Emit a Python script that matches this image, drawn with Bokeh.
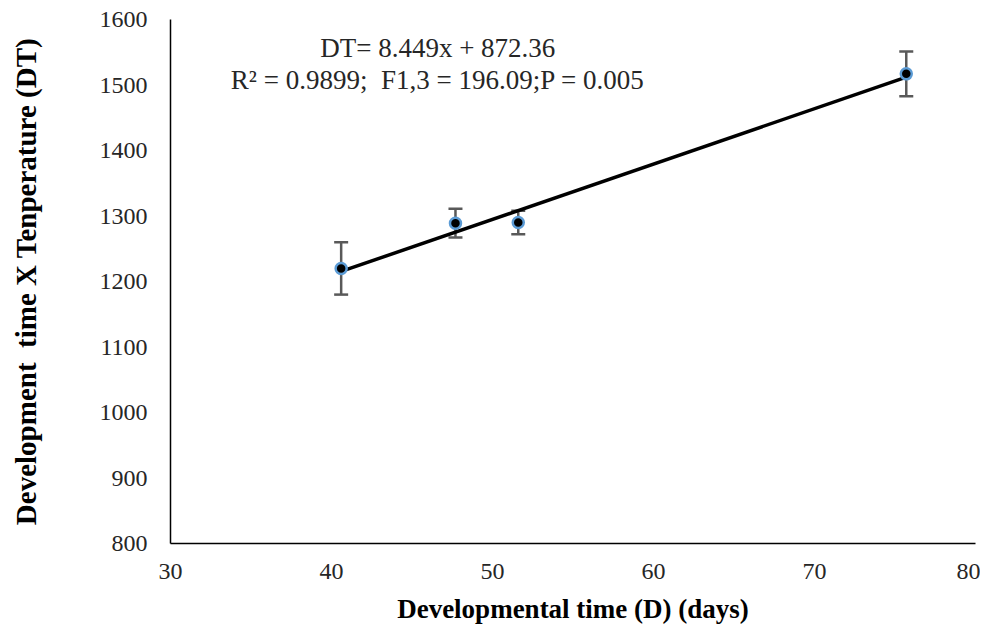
from bokeh.plotting import figure
from bokeh.models import Range1d, SingleIntervalTicker, Whisker, TeeHead, ColumnDataSource, Label
from bokeh.embed import file_html
from bokeh.resources import INLINE
import numpy as np

days = [40.6, 47.7, 51.6, 75.7]
dt_vals = [1220, 1289, 1290, 1517]
err = [40, 22, 18, 34]
slope = 8.449
intercept = 872.36
eq_text = "DT= 8.449x + 872.36"
stats_text = "R\u00b2 = 0.9899;\u00a0 F1,3 = 196.09;P = 0.005"

FONT = "Liberation Serif"

p = figure(width=980, height=626, output_backend="svg", toolbar_location=None,
           x_range=Range1d(30, 80), y_range=Range1d(800, 1600),
           min_border_left=170, min_border_right=5, min_border_top=19, min_border_bottom=83)
p.outline_line_color = None
p.grid.visible = False

for ax in (p.xaxis, p.yaxis):
    ax.major_tick_in = 0
    ax.major_tick_out = 0
    ax.minor_tick_in = 0
    ax.minor_tick_out = 0
    ax.axis_line_color = "black"
    ax.axis_line_width = 1.5
    ax.major_label_text_font = FONT
    ax.major_label_text_font_size = "24px"
    ax.major_label_text_color = "#262626"
    ax.axis_label_text_font = FONT
    ax.axis_label_text_font_style = "bold"
    ax.axis_label_text_font_size = "27px"
    ax.axis_label_text_color = "black"

p.yaxis.axis_label_text_font_size = "29px"
p.xaxis.ticker = SingleIntervalTicker(interval=10)
p.yaxis.ticker = SingleIntervalTicker(interval=100)
p.xaxis.major_label_standoff = 20
p.yaxis.major_label_standoff = 23
p.xaxis.axis_label = "Developmental time (D) (days)"
p.yaxis.axis_label = "Development \u00a0time X Tenperature (DT)"
p.xaxis.axis_label_standoff = 12
p.yaxis.axis_label_standoff = 55

src = ColumnDataSource(dict(x=days, y=dt_vals,
                            upper=[v + e for v, e in zip(dt_vals, err)],
                            lower=[v - e for v, e in zip(dt_vals, err)]))

w = Whisker(source=src, base="x", upper="upper", lower="lower",
            line_color="#595959", line_width=2.5,
            upper_head=TeeHead(size=14, line_color="#595959", line_width=2.5),
            lower_head=TeeHead(size=14, line_color="#595959", line_width=2.5))
p.add_layout(w)

xs = np.array([min(days), max(days)])
p.line(xs, slope * xs + intercept, line_color="black", line_width=3.5)

p.scatter("x", "y", source=src, size=11, fill_color="black",
          line_color="#5b9bd5", line_width=2.5)

p.add_layout(Label(x=46.6, y=1557, text=eq_text, text_align="center", text_baseline="middle",
                   text_font=FONT, text_font_size="27px", text_color="#262626"))
p.add_layout(Label(x=46.6, y=1507, text=stats_text, text_align="center", text_baseline="middle",
                   text_font=FONT, text_font_size="27px", text_color="#262626"))

open("out.html", "w").write(file_html(p, INLINE))
